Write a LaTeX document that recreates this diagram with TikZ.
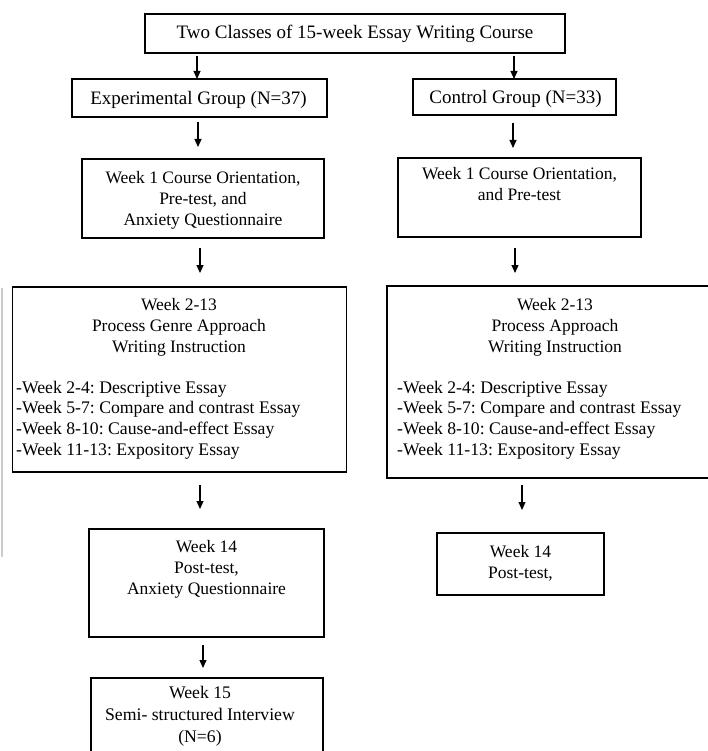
\documentclass[tikz,border=0pt]{standalone}
\usepackage{fontspec}
\setmainfont{Liberation Serif}
\usetikzlibrary{arrows.meta}
% strut that fixes the height of a node's first line, so text can be placed by baseline
\newcommand{\firstln}{\rule{0pt}{14pt}}
\frenchspacing
\begin{document}
\begin{tikzpicture}[x=1pt,y=-1pt,
  box/.style={draw=black, line width=1.1pt, inner sep=0pt, outer sep=0pt},
  txt/.style={font=\fontsize{17.5}{21.3}\selectfont, inner sep=0pt, anchor=north, align=center},
  bigtxt/.style={txt, font=\fontsize{19}{22}\selectfont},
  lst/.style={font=\fontsize{17.7}{20.7}\selectfont, inner sep=0pt, anchor=north west, align=left},
  arr/.style={line width=1.1pt, -{Triangle[length=8pt,width=7pt]}}]
\fill[white] (0,0) rectangle (708,751);
\useasboundingbox (0,0) rectangle (708,751);

% faint rule along the left edge
\draw[gray!40, line width=2pt] (1.5,288) -- (1.5,557);

% boxes
\node[box, minimum width=420pt, minimum height=39pt] (top) at (355,33.5) {};
\node[box, minimum width=255pt, minimum height=38pt] (exp) at (199.5,98) {};
\node[box, minimum width=203pt, minimum height=36pt] (ctl) at (514.5,97) {};
\node[box, minimum width=242pt, minimum height=79pt] (exp1) at (203,198.5) {};
\node[box, minimum width=243pt, minimum height=79pt] (ctl1) at (519.5,197.5) {};
\node[box, minimum width=334pt, minimum height=185pt] (exp2) at (179.5,379.5) {};
\node[box, minimum width=336pt, minimum height=192pt] (ctl2) at (555,382) {};
\node[box, minimum width=235pt, minimum height=108pt] (exp14) at (206.5,583) {};
\node[box, minimum width=167pt, minimum height=62pt] (ctl14) at (520.5,564) {};
\node[box, minimum width=232pt, minimum height=92pt] (exp15) at (207,724) {};

% texts (y = first baseline - 14)
\node[bigtxt] (topT) at (355,24) {\firstln Two Classes of 15-week Essay Writing Course};
\node[bigtxt] (expT) at (198.5,90) {\firstln Experimental Group (N=37)};
\node[bigtxt] (ctlT) at (515.5,89) {\firstln Control Group (N=33)};
\node[txt] (exp1T) at (203,169) {\firstln Week 1 Course Orientation,\\Pre-test, and\\Anxiety Questionnaire};
\node[txt] (ctl1T) at (519.5,165) {\firstln Week 1 Course Orientation,\\and Pre-test};
\node[txt] (exp2T) at (179,296) {\firstln Week 2-13\\Process Genre Approach\\Writing Instruction};
\node[lst] (exp2L) at (16,379) {\firstln -Week 2-4: Descriptive Essay\\-Week 5-7: Compare and contrast Essay\\-Week 8-10: Cause-and-effect Essay\\-Week 11-13: Expository Essay};
\node[txt] (ctl2T) at (555,296) {\firstln Week 2-13\\Process Approach\\Writing Instruction};
\node[lst] (ctl2L) at (397,379) {\firstln -Week 2-4: Descriptive Essay\\-Week 5-7: Compare and contrast Essay\\-Week 8-10: Cause-and-effect Essay\\-Week 11-13: Expository Essay};
\node[txt] (exp14T) at (206.5,538) {\firstln Week 14\\Post-test,\\Anxiety Questionnaire};
\node[txt] (ctl14T) at (520.5,543) {\firstln Week 14\\Post-test,};
\node[txt, font=\fontsize{17.7}{22}\selectfont] (exp15T) at (200,684) {\firstln Week 15\\Semi- structured Interview\\(N=6)};

% arrows
\draw[arr, shorten <=3pt] (197,0 |- top.south) -- (197,0 |- exp.north);
\draw[arr, shorten <=3pt] (514,0 |- top.south) -- (514,0 |- ctl.north);
\draw[arr, shorten <=5pt, shorten >=12pt] (198,0 |- exp.south) -- (198,0 |- exp1.north);
\draw[arr, shorten <=8pt, shorten >=10pt] (513,0 |- ctl.south) -- (513,0 |- ctl1.north);
\draw[arr, shorten <=10pt, shorten >=14pt] (200,0 |- exp1.south) -- (200,0 |- exp2.north);
\draw[arr, shorten <=11pt, shorten >=13pt] (515,0 |- ctl1.south) -- (515,0 |- ctl2.north);
\draw[arr, shorten <=13pt, shorten >=20pt] (200,0 |- exp2.south) -- (200,0 |- exp14.north);
\draw[arr, shorten <=7pt, shorten >=23pt] (522,0 |- ctl2.south) -- (522,0 |- ctl14.north);
\draw[arr, shorten <=8pt, shorten >=10pt] (203,0 |- exp14.south) -- (203,0 |- exp15.north);
\end{tikzpicture}
\end{document}
